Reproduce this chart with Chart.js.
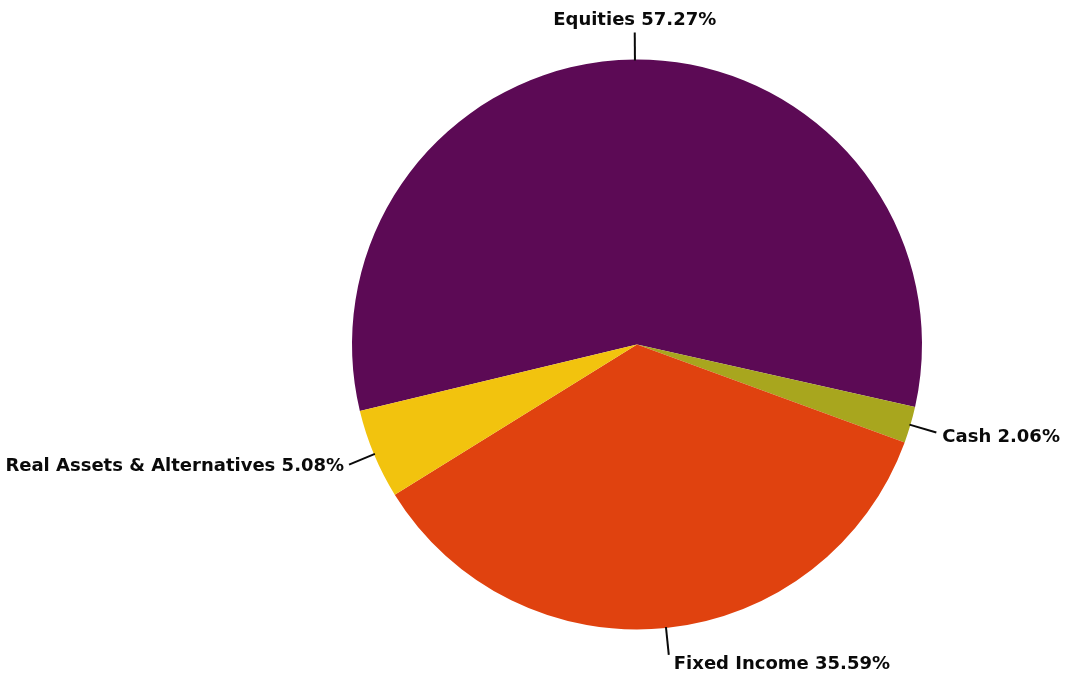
<!DOCTYPE html>
<html>
<head>
<meta charset="utf-8">
<script src="https://cdn.jsdelivr.net/npm/chart.js@4/dist/chart.umd.min.js"></script>
<style>
html,body{margin:0;padding:0;background:#fff;}
#wrap{width:1066px;height:684px;position:relative;}
</style>
</head>
<body>
<div id="wrap"><canvas id="c"></canvas></div>
<script>
const categories = ["Equities", "Cash", "Fixed Income", "Real Assets & Alternatives"];
const values = [57.27, 2.06, 35.59, 5.08];
const colors = ["#5C0A55", "#A8A61E", "#E0420F", "#F2C30E"];

const labelPlugin = {
  id: 'leaderLabels',
  afterDatasetsDraw(chart) {
    const ctx = chart.ctx;
    const meta = chart.getDatasetMeta(0);
    ctx.save();
    ctx.font = 'bold 18px "DejaVu Sans", Verdana, sans-serif';
    ctx.fillStyle = '#0a0a0a';
    ctx.strokeStyle = '#0a0a0a';
    ctx.lineWidth = 2;
    meta.data.forEach((arc, i) => {
      const p = arc.getProps(['x','y','startAngle','endAngle','outerRadius'], true);
      const mid = (p.startAngle + p.endAngle) / 2;
      const c = Math.cos(mid), s = Math.sin(mid);
      const r0 = p.outerRadius - 1, r1 = p.outerRadius + 27;
      const x0 = p.x + c * r0, y0 = p.y + s * r0;
      const x1 = p.x + c * r1, y1 = p.y + s * r1;
      ctx.beginPath(); ctx.moveTo(x0, y0); ctx.lineTo(x1, y1); ctx.stroke();
      const text = categories[i] + ' ' + values[i].toFixed(2) + '%';
      if (s < -0.9) {
        ctx.textAlign = 'center'; ctx.textBaseline = 'alphabetic';
        ctx.fillText(text, x1, y1 - 8);
      } else if (s > 0.9) {
        ctx.textAlign = 'left'; ctx.textBaseline = 'middle';
        ctx.fillText(text, x1 + 5, y1 + 9);
      } else if (c > 0) {
        ctx.textAlign = 'left'; ctx.textBaseline = 'middle';
        ctx.fillText(text, x1 + 6, y1 + 5);
      } else {
        ctx.textAlign = 'right'; ctx.textBaseline = 'middle';
        ctx.fillText(text, x1 - 5, y1 + 2);
      }
    });
    ctx.restore();
  }
};

new Chart(document.getElementById('c'), {
  type: 'pie',
  data: {
    labels: categories,
    datasets: [{ data: values, backgroundColor: colors, borderWidth: 0 }]
  },
  options: {
    responsive: true,
    maintainAspectRatio: false,
    animation: false,
    rotation: 256.5,
    layout: { padding: { left: 352, right: 144, top: 58, bottom: 53 } },
    plugins: { legend: { display: false }, tooltip: { enabled: false } }
  },
  plugins: [labelPlugin]
});
</script>
</body>
</html>
